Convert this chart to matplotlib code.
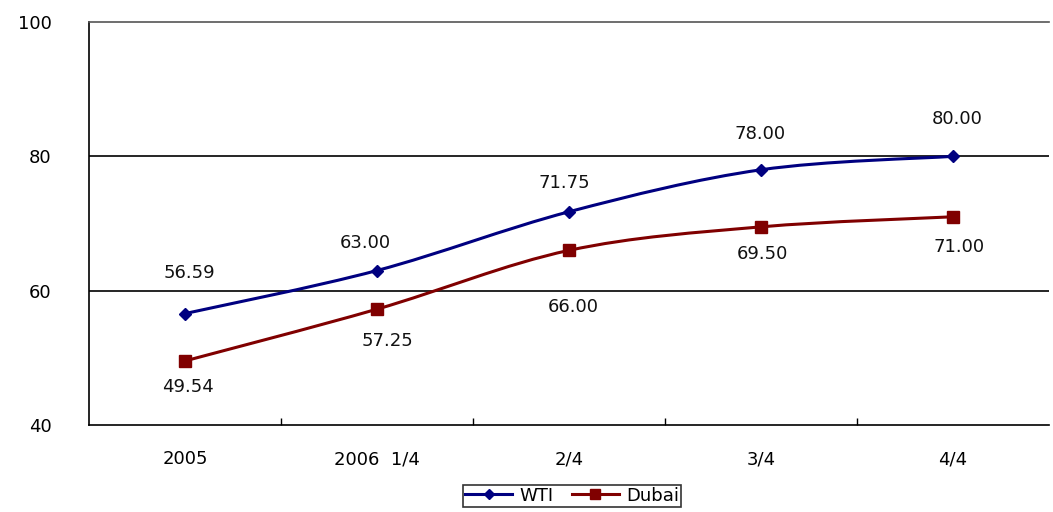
import numpy as np
import matplotlib.pyplot as plt
from matplotlib.path import Path
from matplotlib.patches import PathPatch

categories = ['2005', '2006  1/4', '2/4', '3/4', '4/4']
wti = [56.59, 63.00, 71.75, 78.00, 80.00]
dubai = [49.54, 57.25, 66.00, 69.50, 71.00]

# label offsets in pixels (dx, dy)
wti_off = [(4, 41), (-12, 28), (-5, 29), (-1, 36), (4, 37)]
dubai_off = [(3, -26), (10, -32), (4, -57), (1, -27), (6, -30)]

plt.rcParams['font.family'] = ['DejaVu Sans']
FS = 13

fig = plt.figure(figsize=(10.53, 5.12), dpi=100)
ax = fig.add_axes([89/1053, 1 - 425/512, (1049 - 89)/1053, (425 - 22)/512])


def smooth_path(xs, ys):
    # excel-like smoothed line: cubic bezier through the points
    pts = np.column_stack([xs, ys]).astype(float)
    verts = [pts[0]]
    codes = [Path.MOVETO]
    n = len(pts)
    for i in range(n - 1):
        p0 = pts[max(i - 1, 0)]
        p1 = pts[i]
        p2 = pts[i + 1]
        p3 = pts[min(i + 2, n - 1)]
        c1 = p1 + (p2 - p0) / 6.0
        c2 = p2 - (p3 - p1) / 6.0
        verts += [c1, c2, p2]
        codes += [Path.CURVE4] * 3
    return Path(verts, codes)


x = np.arange(len(categories))
for vals, col, mk, ms, offs in [(wti, '#000080', 'D', 6, wti_off),
                                (dubai, '#800000', 's', 8, dubai_off)]:
    ax.add_patch(PathPatch(smooth_path(x, vals), facecolor='none',
                           edgecolor=col, lw=2.2, zorder=3))
    for xi, v, (dx, dy) in zip(x, vals, offs):
        ax.annotate('%.2f' % v, (xi, v), xytext=(dx * 0.72, dy * 0.72),
                    textcoords='offset points', ha='center', va='center',
                    fontsize=FS, color='#111111')
    ax.plot(x, vals, ls='none', marker=mk, ms=ms, color=col, zorder=4)

# legend handles
ax.plot([], [], color='#000080', marker='D', ms=5, lw=2.2, label='WTI')
ax.plot([], [], color='#800000', marker='s', ms=7, lw=2.2, label='Dubai')

ax.set_xlim(-0.5, len(categories) - 0.5)
ax.set_ylim(40, 100)
ax.set_yticks([40, 60, 80, 100])
ax.tick_params(axis='y', length=0, pad=27, labelsize=FS)
for y in [60, 80]:
    ax.axhline(y, color='black', lw=1.2, zorder=1)

ax.set_xticks(x)
ax.set_xticklabels(categories)
ax.set_xticks(np.arange(0.5, len(categories) - 0.5), minor=True)
ax.tick_params(axis='x', which='major', length=0, pad=18, labelsize=FS)
ax.tick_params(axis='x', which='minor', direction='in', length=5, width=1)

for s in ['left', 'bottom', 'top']:
    ax.spines[s].set_linewidth(1.2)
ax.spines['top'].set_color('#555555')
ax.spines['right'].set_visible(False)

leg = ax.legend(loc='upper center', bbox_to_anchor=(572/1053, 27/512),
                bbox_transform=fig.transFigure, ncol=2, frameon=True,
                fancybox=False, edgecolor='black', fontsize=13,
                handlelength=2.6, handletextpad=0.4, columnspacing=1.0,
                borderpad=0.1, borderaxespad=0)
leg.get_frame().set_linewidth(1.2)

fig.savefig('out.png', dpi=100)
